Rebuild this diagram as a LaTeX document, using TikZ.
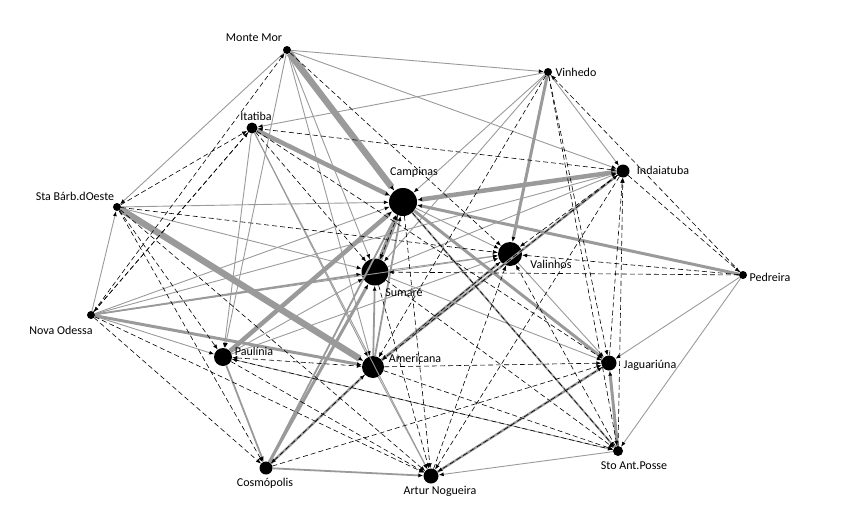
\documentclass[tikz,border=0pt]{standalone}
\usepackage{fontspec}
\setmainfont{Carlito}
\usetikzlibrary{arrows.meta}
\definecolor{eg}{HTML}{9A9A9A}
\begin{document}
\begin{tikzpicture}[x=1pt,y=-1pt,
  city/.style={circle,fill=black,inner sep=0pt,minimum size=#1},
  lbl/.style={font=\fontsize{12}{12}\selectfont,inner sep=0pt,text=black},
  arr/.style={-{Latex[length=5pt,width=4pt,black]}},
  arrb/.style={{Latex[length=5pt,width=4pt,black]}-{Latex[length=5pt,width=4pt,black]}},
  ga/.style={draw=eg,line width=0.9pt,arr},
  gb/.style={draw=eg,line width=1.8pt,arr},
  gc/.style={draw=eg,line width=3pt,arr},
  gd/.style={draw=eg,line width=4.5pt,arr},
  ge/.style={draw=eg,line width=6.5pt,arr},
  dsh/.style={draw=black,line width=0.6pt,dash pattern=on 5pt off 3pt,arr},
  dshb/.style={draw=black,line width=0.6pt,dash pattern=on 5pt off 3pt,arrb},
  dbl/.style={draw=eg,line width=2.4pt,arr}
]
\useasboundingbox (0,0) rectangle (862,514);
% cities
\node[city=8pt]  (MM) at (287,50)  {};
\node[city=8pt]  (VI) at (548,72)  {};
\node[city=11pt] (IT) at (252,128) {};
\node[city=28pt] (CA) at (403,202) {};
\node[city=13pt] (IN) at (623,171) {};
\node[city=8pt]  (SB) at (117,207) {};
\node[city=24pt] (VA) at (510,254) {};
\node[city=27pt] (SU) at (375,272) {};
\node[city=8pt]  (PE) at (743,275) {};
\node[city=8pt]  (NO) at (91,315)  {};
\node[city=18pt] (PA) at (223,357) {};
\node[city=22pt] (AM) at (373,367) {};
\node[city=15pt] (JA) at (609,363) {};
\node[city=10pt] (SP) at (618,451) {};
\node[city=13pt] (CO) at (266,468) {};
\node[city=15pt] (AN) at (431,476) {};
% thick edges
\foreach \a/\b in {MM/CA,SB/AM} \draw[ge] (\a) -- (\b);
\foreach \a/\b in {PA/CA,IN/CA,SU/CA,IT/CA} \draw[gd] (\a) -- (\b);
\foreach \a/\b in {PE/CA,NO/AM,VI/VA,CA/JA,SP/JA,CO/SU} \draw[gc] (\a) -- (\b);
\foreach \a/\b in {NO/SU,CO/CA,AM/CA,AM/SU,CA/SP,PA/CO,CO/AN} \draw[gb] (\a) -- (\b);
% thin solid edges
\foreach \a/\b in {MM/VI,MM/IN,MM/SB,MM/PA,MM/SU,MM/AM,VI/IT,VI/CA,VI/SU,VI/IN,
  SB/CA,SB/SU,NO/SB,NO/CA,NO/PA,NO/VA,NO/IN,IT/PA,IT/AM,IT/AN,SU/VA,SU/JA,SU/IN,
  PE/JA,PE/SP,PA/SU,PA/VA,PA/SP,AM/AN,SP/AN,VA/JA,CA/VA}
  \draw[ga] (\a) -- (\b);
% doubled edges
\foreach \a/\b in {CO/AM,AM/VA,AM/IN,AN/JA} {
  \draw[dbl] (\a) -- (\b);
  \draw[dsh] (\b) -- (\a);
}
% dashed edges
\foreach \a/\b in {MM/VA,NO/MM,IT/NO,SB/IT,NO/IT,IT/SU,IT/JA,
  VI/AM,VI/JA,PE/VI,IN/VA,PE/VA,PE/SU,IN/PE,SB/VA,SB/CO,SB/PA,SB/AN,
  NO/CO,NO/AN,CA/AN,CA/SU,CA/SP,AN/VA,SP/VA,SP/IN,JA/IN,AM/JA,
  AM/SP,CO/JA,SU/SP,SU/AN,PA/AN,SP/PA,IN/AN,VI/SP}
  \draw[dsh] (\a) -- (\b);
\foreach \a/\b in {IN/IT,PA/AM}
  \draw[dshb] (\a) -- (\b);
% labels
\node[lbl] (lMM) at (254,38)  {Monte Mor};
\node[lbl] (lVI) at (576,72)  {Vinhedo};
\node[lbl] (lIT) at (256,116) {Itatiba};
\node[lbl] (lCA) at (414,172) {Campinas};
\node[lbl] (lIN) at (663,170) {Indaiatuba};
\node[lbl] (lSB) at (75,196)  {Sta Bárb.dOeste};
\node[lbl] (lVA) at (551,264) {Valinhos};
\node[lbl] (lSU) at (404,292) {Sumaré};
\node[lbl] (lPE) at (770,277) {Pedreira};
\node[lbl] (lNO) at (61,330)  {Nova Odessa};
\node[lbl] (lPA) at (254,351) {Paulínia};
\node[lbl] (lAM) at (415,358) {Americana};
\node[lbl] (lJA) at (650,365) {Jaguariúna};
\node[lbl] (lSP) at (634,466) {Sto Ant.Posse};
\node[lbl] (lCO) at (265,483) {Cosmópolis};
\node[lbl] (lAN) at (440,491) {Artur Nogueira};
\end{tikzpicture}
\end{document}
